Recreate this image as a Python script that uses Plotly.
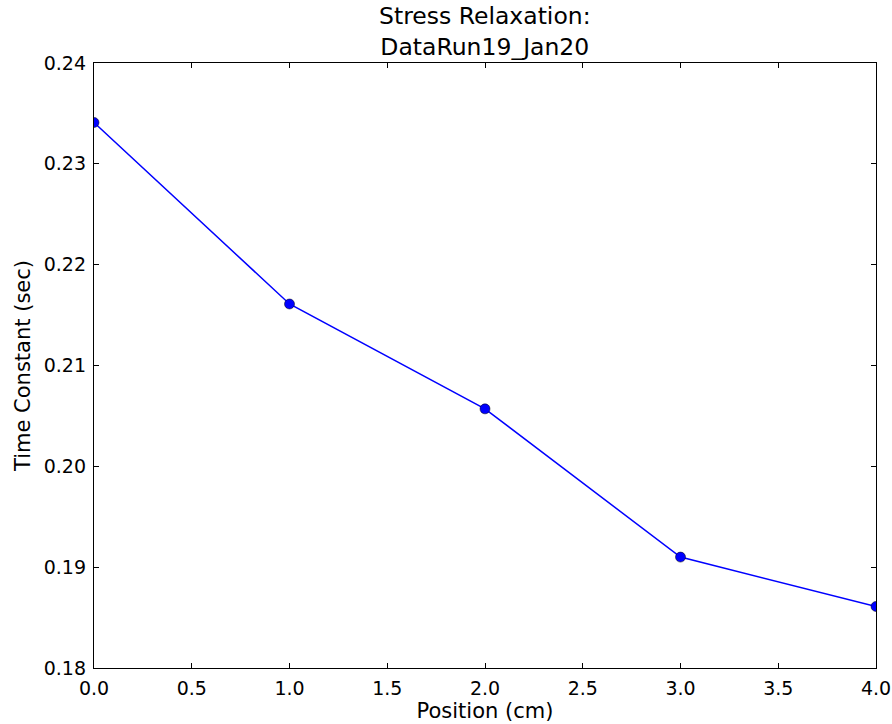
import plotly.graph_objects as go

positions = [0.0, 1.0, 2.0, 3.0, 4.0]
time_constants = [0.2341, 0.2161, 0.2057, 0.1910, 0.1861]
x_ticks = [0.0, 0.5, 1.0, 1.5, 2.0, 2.5, 3.0, 3.5, 4.0]
y_ticks = [0.18, 0.19, 0.20, 0.21, 0.22, 0.23, 0.24]
title_lines = ["Stress Relaxation:", "DataRun19_Jan20"]

FONT = "DejaVu Sans"

fig = go.Figure()
fig.add_trace(go.Scatter(
    x=positions, y=time_constants, mode="lines+markers",
    line=dict(color="#0000ff", width=1.5),
    marker=dict(color="#0000ff", size=10, line=dict(color="#000000", width=0.5)),
    cliponaxis=True,
))

axis_common = dict(
    showgrid=False, zeroline=False, showline=True, linecolor="black", linewidth=1.3,
    mirror="allticks", ticks="inside", ticklen=5, tickwidth=1, tickcolor="black",
    tickfont=dict(family=FONT, size=19, color="black"), automargin=False,
    ticklabelstandoff=3,
)

fig.update_xaxes(
    range=[0, 4], tickvals=x_ticks, ticktext=[f"{v:.1f}" for v in x_ticks],
    title=dict(text="Position (cm)", font=dict(family=FONT, size=21, color="black"), standoff=2),
    **axis_common,
)
fig.update_yaxes(
    range=[0.18, 0.24], tickvals=y_ticks, ticktext=[f"{v:.2f}" for v in y_ticks],
    title=dict(text="Time Constant (sec)", font=dict(family=FONT, size=21, color="black"), standoff=7),
    **axis_common,
)

fig.update_layout(
    width=892, height=724,
    margin=dict(l=94, r=16, t=63, b=56),
    paper_bgcolor="white", plot_bgcolor="white",
    showlegend=False,
    annotations=[
        dict(text="<br>".join(title_lines), x=0.5, xref="paper", y=1, yref="paper",
             xanchor="center", yanchor="bottom", yshift=1, showarrow=False,
             borderpad=0, font=dict(family=FONT, size=23.5, color="black")),
    ],
)

fig.write_html("out.html")
